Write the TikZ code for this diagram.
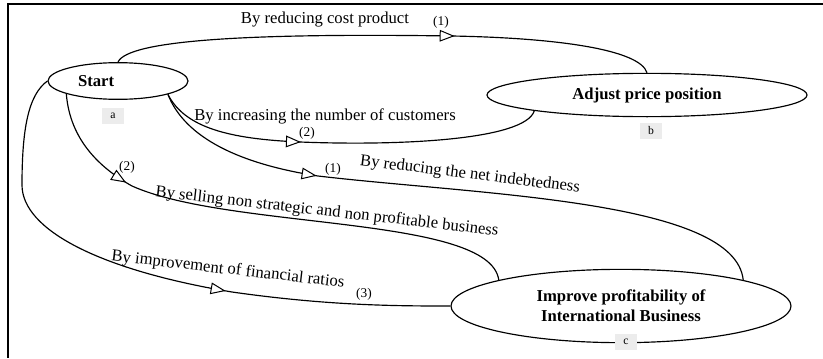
\documentclass[tikz,border=0pt]{standalone}
\usepackage{fontspec}
\setmainfont{Liberation Serif}
\usetikzlibrary{shapes,arrows.meta,decorations.markings}

\begin{document}
\begin{tikzpicture}[x=0.6pt,y=-0.6pt,
    ellipsenode/.style={ellipse, draw, line width=0.7pt, font=\bfseries, inner sep=1pt},
    tagnode/.style={rectangle, fill=gray!15, font=\scriptsize, minimum width=13pt, minimum height=9.5pt, inner sep=0pt},
    textnode/.style={inner sep=0pt},
    numnode/.style={inner sep=0pt, font=\footnotesize},
    flowline/.style={line width=0.7pt, postaction={decorate}},
    midarrow/.style={decoration={markings, mark=at position #1 with {\arrow{Triangle[length=9pt,width=7pt,fill=white,line width=0.6pt]}}}}
    ]
  \useasboundingbox (0,0) rectangle (823,358);
  % frame
  \draw[line width=1pt] (823,4) -- (8,4) -- (8,358);
  % nodes
  \node[ellipsenode, minimum width=84pt, minimum height=22pt, text width=48pt, align=left] (Start) at (118,81) {Start};
  \node[ellipsenode, minimum width=192pt, minimum height=26pt] (Adjust) at (647,95) {Adjust price position};
  \node[ellipsenode, minimum width=204pt, minimum height=44pt, align=center] (Improve) at (621,306) {Improve profitability of\\International Business};
  \node[tagnode] (TagA) at (113,116) {a};
  \node[tagnode] (TagB) at (651,131) {b};
  % arrows
  \draw[flowline, midarrow=0.63] (Start.north) .. controls (128,40) and (250,33) .. (452,36)
    .. controls (560,38) and (640,50) .. (Adjust.north);
  \draw[flowline, midarrow=0.38] (Start.-15) .. controls (185,128) and (230,139) .. (300,142)
    .. controls (400,146) and (525,140) .. (Adjust.188);
  \draw[flowline, midarrow=0.28] (Start.-15) .. controls (185,138) and (240,164) .. (318,176)
    .. controls (480,195) and (735,200) .. (Improve.12);
  \draw[flowline, midarrow=0.22] (Start.194) .. controls (70,140) and (100,168) .. (132,186)
    .. controls (230,230) and (490,215) .. (Improve.168);
  \draw[flowline, midarrow=0.61] (Start.west) .. controls (28,95) and (22,130) .. (22,185)
    .. controls (22,230) and (100,270) .. (232,292)
    .. controls (330,306) and (400,306) .. (Improve.west);
  \node[tagnode] (TagC) at (626,342) {c};
  % labels
  \node[textnode] (LblCost) at (325,20) {By reducing cost product};
  \node[numnode] (NumCost) at (441,22) {(1)};
  \node[textnode] (LblCust) at (325,116) {By increasing the number of customers};
  \node[numnode] (NumCust) at (307,133) {(2)};
  \node[textnode, rotate=-7] (LblDebt) at (470,175) {By reducing the net indebtedness};
  \node[numnode] (NumDebt) at (333,169) {(1)};
  \node[textnode, rotate=-6.5] (LblSell) at (327,212) {By selling non strategic and non profitable business};
  \node[numnode] (NumSell) at (127,167) {(2)};
  \node[textnode, rotate=-6.5] (LblFin) at (228,270) {By improvement of financial ratios};
  \node[numnode] (NumFin) at (364,294) {(3)};
\end{tikzpicture}
\end{document}
